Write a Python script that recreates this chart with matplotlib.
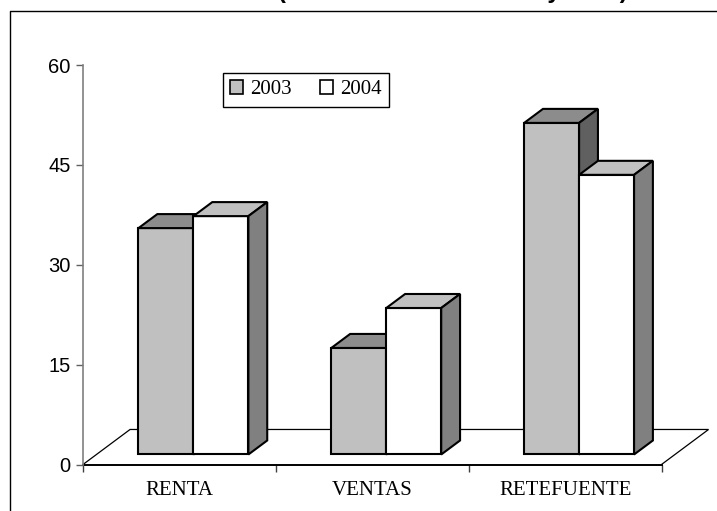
import matplotlib
matplotlib.use('Agg')
import matplotlib.pyplot as plt
from matplotlib.lines import Line2D
from matplotlib.patches import Patch, Polygon

categories = ['RENTA', 'VENTAS', 'RETEFUENTE']
years = ['2003', '2004']
values_2003 = [34, 16, 49.8]
values_2004 = [35.8, 22, 42]
y_ticks = [0, 15, 30, 45, 60]
title = '(Miles de millones 2003 y 2004)'

# oblique depth of the floor, in data units
DEPTH_X = 0.244
DEPTH_Y = 5.26
BAR_FRONT = 0.286
BAR_BACK = 0.686
BAR_WIDTH = 0.285
BAR_START = 0.218

W, H = 717, 511
fig = plt.figure(figsize=(W / 100, H / 100), dpi=100)
ax = fig.add_axes([83 / W, (H - 464.5) / H, 578.5 / W, 399.5 / H])
ax.set_xlim(0, 3)
ax.set_ylim(0, 60)
ax.patch.set_visible(False)


def project(x, y, depth):
    return x + depth * DEPTH_X, y + depth * DEPTH_Y


def draw_bar(left, value, front, top, side):
    right = left + BAR_WIDTH
    faces = [
        ([(left, 0, BAR_FRONT), (right, 0, BAR_FRONT), (right, value, BAR_FRONT), (left, value, BAR_FRONT)], front),
        ([(left, value, BAR_FRONT), (right, value, BAR_FRONT), (right, value, BAR_BACK), (left, value, BAR_BACK)], top),
        ([(right, 0, BAR_FRONT), (right, 0, BAR_BACK), (right, value, BAR_BACK), (right, value, BAR_FRONT)], side),
    ]
    for pts, color in faces:
        ax.add_patch(Polygon([project(*p) for p in pts], closed=True, facecolor=color,
                             edgecolor='black', linewidth=1.5, joinstyle='miter', clip_on=False, zorder=3))


# floor
floor = [project(0, 0, 0), project(0, 0, 1), project(3, 0, 1), project(3, 0, 0)]
ax.add_patch(Polygon(floor, closed=False, fill=False, edgecolor='black', linewidth=0.9, clip_on=False, zorder=1))

for i in range(len(categories)):
    left = i + BAR_START
    draw_bar(left, values_2003[i], '#C0C0C0', '#8C8C8C', '#606060')
    draw_bar(left + BAR_WIDTH, values_2004[i], '#FFFFFF', '#C0C0C0', '#808080')

for side in ['top', 'right']:
    ax.spines[side].set_visible(False)
ax.spines['left'].set_color('#808080')
ax.spines['left'].set_linewidth(1.2)
ax.spines['bottom'].set_linewidth(1.4)
ax.spines['bottom'].set_zorder(2)

ax.set_yticks(y_ticks)
ax.tick_params(axis='y', length=5, width=1, color='#606060', pad=4, labelsize=14.5)
for label in ax.get_yticklabels():
    label.set_family('Liberation Sans')

ax.set_xticks([0, 1, 2, 3])
ax.set_xticklabels([])
ax.tick_params(axis='x', length=5, width=1, color='#404040')
ax.set_xticks([0.5, 1.5, 2.5], categories, minor=True, family='Liberation Serif', fontsize=15)
ax.tick_params(axis='x', which='minor', length=0, pad=12)

handles = [Patch(facecolor='#C0C0C0', edgecolor='black', linewidth=1.2),
           Patch(facecolor='white', edgecolor='black', linewidth=1.2)]
leg = ax.legend(handles, years, ncol=2, loc='upper left', bbox_to_anchor=((222.5 - 83) / 578.5, (464.5 - 73) / 399.5),
                borderaxespad=0, fancybox=False, framealpha=1, edgecolor='black',
                prop={'family': 'Liberation Serif', 'size': 15}, handlelength=0.62, handleheight=0.62,
                handletextpad=0.35, columnspacing=1.35, borderpad=0.35, labelspacing=0)
leg.get_frame().set_linewidth(1.0)

# outer frame, runs off the right and bottom of the picture
fig.add_artist(Line2D([9.5 / W, 9.5 / W, 1], [0, (H - 11) / H, (H - 11) / H], color='black', linewidth=1.0))

# title is cut by the top edge in the reference, only descenders show
fig.text((275 + 630) / 2 / W, (H + 2) / H, title, ha='center', va='baseline',
         family='Liberation Sans', fontweight='bold', fontsize=17)

fig.savefig('out.png', dpi=100)
